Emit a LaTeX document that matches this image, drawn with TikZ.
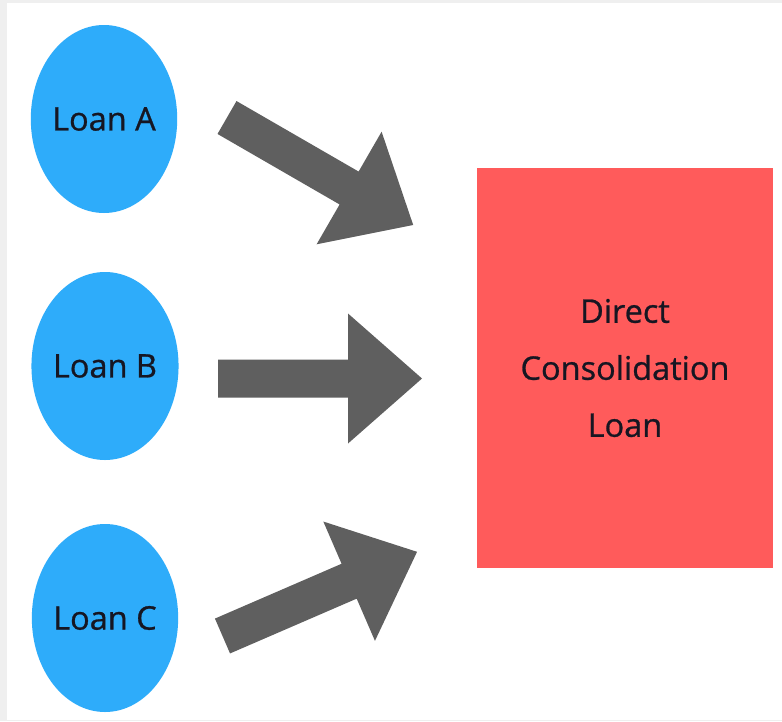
\documentclass[tikz,border=0pt]{standalone}
\usepackage{fontspec}
\setmainfont{Open Sans}
\newfontfamily\medfont[FakeBold=0.8]{Open Sans}
\usetikzlibrary{shapes.geometric}
\definecolor{loanblue}{RGB}{46,172,250}
\definecolor{boxred}{RGB}{255,91,91}
\definecolor{arrowgray}{RGB}{95,95,95}
\definecolor{txtdark}{RGB}{22,22,34}
\definecolor{framegray}{RGB}{239,239,239}
\tikzset{
  loan/.style={ellipse, fill=loanblue, minimum width=138pt, minimum height=188pt, inner sep=0pt,
    text=txtdark, font=\medfont\fontsize{32.5}{40}\selectfont},
  target/.style={rectangle, fill=boxred, minimum width=296pt, minimum height=400pt, inner sep=0pt,
    text=txtdark, align=center, font=\medfont\fontsize{32.5}{57}\selectfont},
  pics/blockarrow/.style={code={
    \fill[arrowgray] (0,-19) -- (#1-74,-19) -- (#1-74,-65) -- (#1,0) -- (#1-74,65) -- (#1-74,19) -- (0,19) -- cycle;
  }}
}
\begin{document}
\begin{tikzpicture}[x=1pt,y=-1pt]
  \fill[framegray] (0,0) rectangle (782,721);
  \fill[white] (7,3) rectangle (782,720);
  \useasboundingbox (0,0) rectangle (782,721);

  \node[loan] (A) at (104,119) {Loan A};
  \node[loan] (B) at (105,366) {Loan B};
  \node[loan] (C) at (105,618) {Loan C};
  \node[target] (D) at (625,368) {Direct\\Consolidation\\Loan};

  \coordinate (a1) at (227,117.5);
  \coordinate (a2) at (218,378.5);
  \coordinate (a3) at (222.5,636);
  \pic[rotate=-30] at (a1) {blockarrow=215};
  \pic at (a2) {blockarrow=204};
  \pic[rotate=23.4] at (a3) {blockarrow=212};
\end{tikzpicture}
\end{document}
